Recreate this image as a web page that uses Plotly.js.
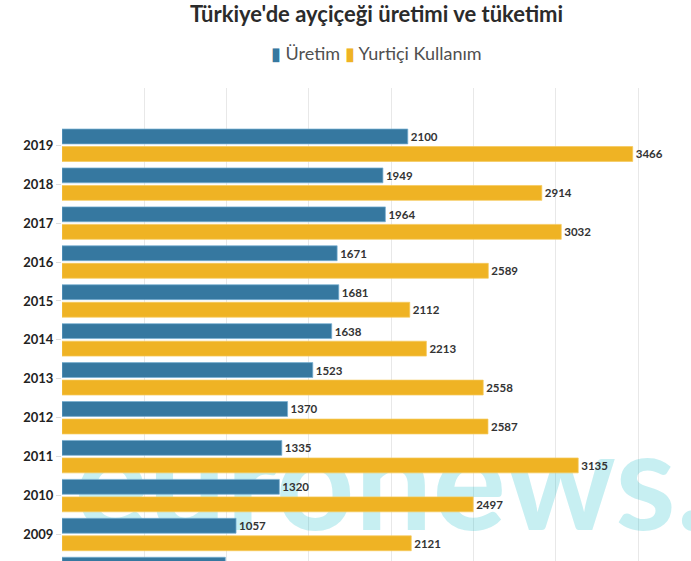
<!DOCTYPE html>
<html>
<head>
<meta charset="utf-8">
<script src="https://cdn.plot.ly/plotly-3.0.1.min.js"></script>
<style>
  html, body { margin: 0; padding: 0; background: #fff; }
  #chart { width: 691px; height: 561px; }
</style>
</head>
<body>
<div id="chart"></div>
<script>
// ---- data ----
const years = ['2019','2018','2017','2016','2015','2014','2013','2012','2011','2010','2009','2008'];
const uretim = [2100, 1949, 1964, 1671, 1681, 1638, 1523, 1370, 1335, 1320, 1057, 992];
const yurtici = [3466, 2914, 3032, 2589, 2112, 2213, 2558, 2587, 3135, 2497, 2121, null];
const seriesNames = ['Üretim', 'Yurtiçi Kullanım'];
const titleText = "Türkiye'de ayçiçeği üretimi ve tüketimi";
const watermarkText = 'euronews.';

const FONT = 'Lato, "Noto Sans", sans-serif';
const BLUE = '#3678a0';
const YELLOW = '#efb324';

const labelFont = { family: FONT, size: 11.5, color: '#333333', weight: 'bold' };

const traces = [
  {
    type: 'scatter', mode: 'text',
    x: [0.524], y: [0.138],
    text: [watermarkText],
    textposition: 'middle center',
    textfont: { family: FONT, size: 138, color: 'rgba(0,180,195,0.22)', weight: 'bold' },
    hoverinfo: 'skip', showlegend: false, cliponaxis: false,
    xaxis: 'x', yaxis: 'y'
  },
  {
    type: 'bar', orientation: 'h', name: seriesNames[0],
    y: years, x: uretim,
    text: uretim.map(v => v == null ? '' : String(v)),
    textposition: 'outside', cliponaxis: false, constraintext: 'none',
    textfont: labelFont,
    marker: { color: BLUE, line: { color: 'rgba(120,175,210,0.9)', width: 0.8 } },
    hoverinfo: 'x+name', showlegend: false,
    xaxis: 'x2', yaxis: 'y2'
  },
  {
    type: 'bar', orientation: 'h', name: seriesNames[1],
    y: years, x: yurtici,
    text: yurtici.map(v => v == null ? '' : String(v)),
    textposition: 'outside', cliponaxis: false, constraintext: 'none',
    textfont: labelFont,
    marker: { color: YELLOW, line: { color: 'rgba(245,200,90,0.9)', width: 0.8 } },
    hoverinfo: 'x+name', showlegend: false,
    xaxis: 'x2', yaxis: 'y2'
  }
];

const legendHtml =
  '<span style="color:' + BLUE + '">▮</span> ' + seriesNames[0] +
  ' <span style="color:' + YELLOW + '">▮</span> ' + seriesNames[1];

const layout = {
  width: 691, height: 561,
  margin: { l: 62, r: 0, t: 88, b: 0, pad: 0 },
  paper_bgcolor: '#ffffff', plot_bgcolor: '#ffffff',
  font: { family: FONT, color: '#333333' },
  title: {
    text: titleText,
    font: { family: FONT, size: 22, color: '#2b2b2b', weight: 'bold' },
    x: 0.5, xref: 'paper', xanchor: 'center',
    y: 0.975, yref: 'container', yanchor: 'middle'
  },
  barmode: 'group',
  bargap: 0.1,
  bargroupgap: 0.15,
  showlegend: false,
  xaxis: { visible: false, range: [0, 1], fixedrange: true },
  yaxis: { visible: false, range: [0, 1], fixedrange: true },
  xaxis2: {
    overlaying: 'x', side: 'bottom',
    range: [0, 3820], dtick: 500, tick0: 0,
    showgrid: true, gridcolor: '#e8e8e8', gridwidth: 1,
    zeroline: false, showline: false, showticklabels: false, ticks: '',
    fixedrange: true
  },
  yaxis2: {
    overlaying: 'y', side: 'left',
    type: 'category', categoryorder: 'array', categoryarray: years,
    range: [10.68, -1.47],
    showgrid: false, zeroline: false, showline: false,
    ticks: 'outside', ticklen: 5, tickcolor: '#dddddd', tickwidth: 1,
    tickfont: { family: FONT, size: 13, color: '#222222', weight: 'bold' },
    fixedrange: true
  },
  annotations: [
    {
      text: legendHtml,
      xref: 'paper', yref: 'paper',
      x: 0.5, y: 1.074, xanchor: 'center', yanchor: 'middle',
      showarrow: false,
      font: { family: FONT, size: 18, color: '#505050' }
    }
  ]
};

Plotly.newPlot('chart', traces, layout, { displayModeBar: false, responsive: false });
</script>
</body>
</html>
